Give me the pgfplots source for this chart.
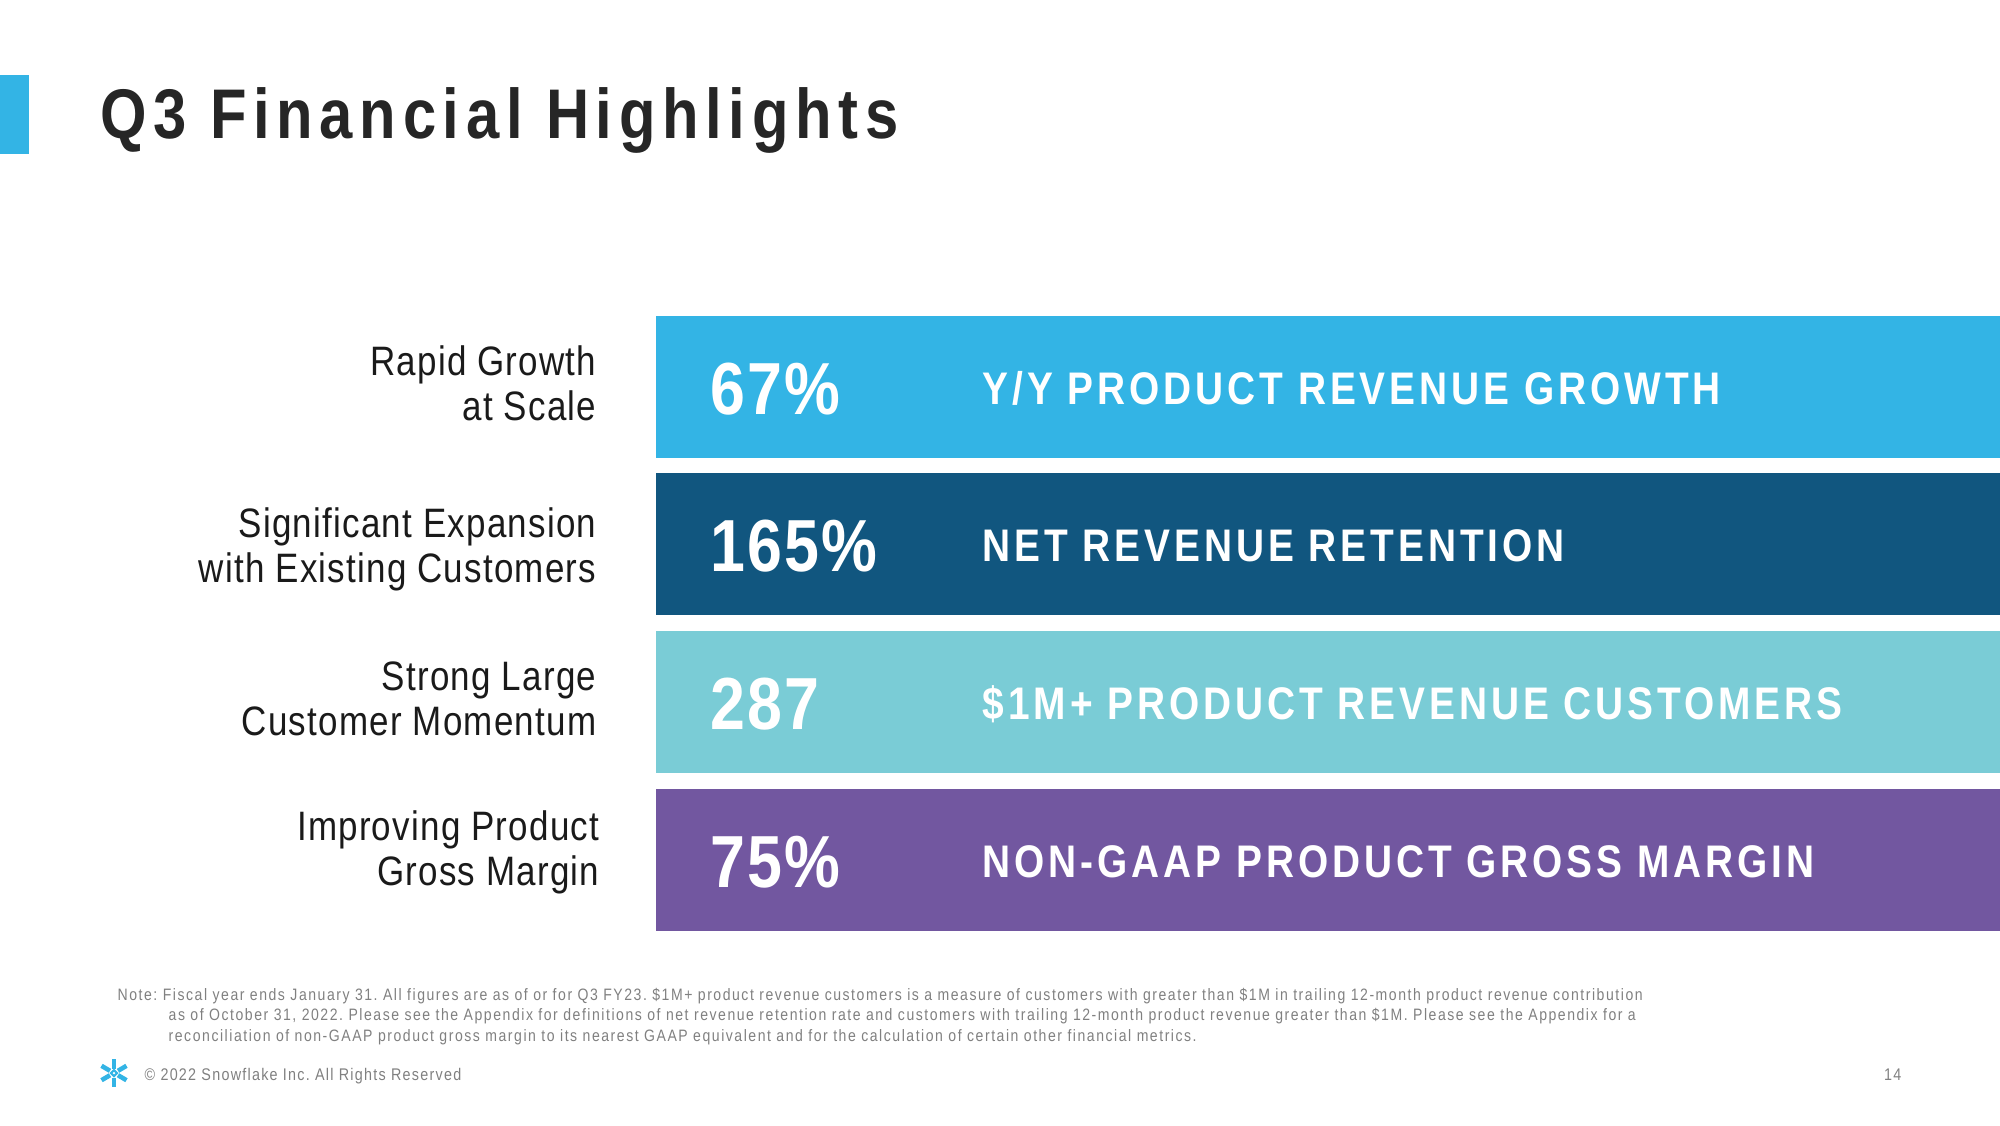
\documentclass[border=0pt]{standalone}
\usepackage{pgfplots}
\pgfplotsset{compat=1.18}
\usepackage{fontspec}
\setmainfont{Liberation Sans}
\frenchspacing
\newfontfamily\titlef{Liberation Sans}[FakeStretch=0.85,LetterSpace=9.5]
\newfontfamily\numf{Liberation Sans}[FakeStretch=0.85,LetterSpace=3]
\newfontfamily\labf{Liberation Sans}[FakeStretch=0.85,LetterSpace=8.6]
\newfontfamily\leftf{Liberation Sans}[FakeStretch=0.85,LetterSpace=3]
\newfontfamily\notef{Liberation Sans}[FakeStretch=0.85,LetterSpace=9.3]
\newfontfamily\footf{Liberation Sans}[FakeStretch=0.85,LetterSpace=7.5]
\definecolor{cA}{RGB}{51,180,229}
\definecolor{cB}{RGB}{17,86,127}
\definecolor{cC}{RGB}{122,204,214}
\definecolor{cD}{RGB}{114,87,160}
\definecolor{titlec}{RGB}{38,38,38}
\definecolor{labc}{RGB}{26,26,26}
\definecolor{notec}{RGB}{128,128,128}
\begin{document}
\begin{tikzpicture}
\useasboundingbox (0,0) rectangle (20cm,11.25cm);
\begin{axis}[at={(0,0)}, anchor=south west, scale only axis,
  width=20cm, height=11.25cm, xmin=0, xmax=2000, ymin=0, ymax=1125,
  y dir=reverse, hide axis, xbar stacked, bar width=142, clip=false]
\addplot[draw=none, fill=none] coordinates {(656,387) (656,544) (656,702) (656,860)};
\addplot[draw=none, fill=cA] coordinates {(1344,387) (0,544) (0,702) (0,860)};
\addplot[draw=none, fill=cB] coordinates {(0,387) (1344,544) (0,702) (0,860)};
\addplot[draw=none, fill=cC] coordinates {(0,387) (0,544) (1344,702) (0,860)};
\addplot[draw=none, fill=cD] coordinates {(0,387) (0,544) (0,702) (1344,860)};
\end{axis}
\begin{axis}[at={(0,0)}, anchor=south west, scale only axis,
  width=20cm, height=11.25cm, xmin=0, xmax=2000, ymin=0, ymax=1125,
  y dir=reverse, hide axis, clip=false]
\addplot[draw=none] coordinates {(0,0)};
\fill[cA] (axis cs:0,75) rectangle (axis cs:29,154);
\node[anchor=base west, inner sep=0, text=titlec] at (axis cs:100,138)
  {\titlef\bfseries\fontsize{20}{24}\selectfont Q3 Financial Highlights};
\node[anchor=base west, inner sep=0, text=white] at (axis cs:710,414) {\numf\bfseries\fontsize{21}{25}\selectfont 67\%};
\node[anchor=base west, inner sep=0, text=white] at (axis cs:710,571) {\numf\bfseries\fontsize{21}{25}\selectfont 165\%};
\node[anchor=base west, inner sep=0, text=white] at (axis cs:710,729) {\numf\bfseries\fontsize{21}{25}\selectfont 287};
\node[anchor=base west, inner sep=0, text=white] at (axis cs:710,887) {\numf\bfseries\fontsize{21}{25}\selectfont 75\%};
\node[anchor=base west, inner sep=0, text=white] at (axis cs:982,404) {\labf\bfseries\fontsize{13}{15}\selectfont Y/Y PRODUCT REVENUE GROWTH};
\node[anchor=base west, inner sep=0, text=white] at (axis cs:982,561) {\labf\bfseries\fontsize{13}{15}\selectfont NET REVENUE RETENTION};
\node[anchor=base west, inner sep=0, text=white] at (axis cs:982,719) {\labf\bfseries\fontsize{13}{15}\selectfont \$1M+ PRODUCT REVENUE CUSTOMERS};
\node[anchor=base west, inner sep=0, text=white] at (axis cs:982,877) {\labf\bfseries\fontsize{13}{15}\selectfont NON-GAAP PRODUCT GROSS MARGIN};
\node[anchor=east, inner sep=0, align=right, text=labc, font={\leftf\fontsize{11.7}{12.8}\selectfont}] at (axis cs:597,383) {Rapid Growth\\at Scale};
\node[anchor=east, inner sep=0, align=right, text=labc, font={\leftf\fontsize{11.7}{12.8}\selectfont}] at (axis cs:597,549) {Significant Expansion\\with Existing Customers};
\node[anchor=east, inner sep=0, align=right, text=labc, font={\leftf\fontsize{11.7}{12.8}\selectfont}] at (axis cs:597,699) {Strong Large\\Customer Momentum};
\node[anchor=east, inner sep=0, align=right, text=labc, font={\leftf\fontsize{11.7}{12.8}\selectfont}] at (axis cs:600,852) {Improving Product\\Gross Margin};
\node[anchor=base west, inner sep=0, text=notec] at (axis cs:117,1000) {\notef\fontsize{4.7}{5.8}\selectfont Note: Fiscal year ends January 31. All figures are as of or for Q3 FY23. \$1M+ product revenue customers is a measure of customers with greater than \$1M in trailing 12-month product revenue contribution};
\node[anchor=base west, inner sep=0, text=notec] at (axis cs:168,1020) {\notef\fontsize{4.7}{5.8}\selectfont as of October 31, 2022. Please see the Appendix for definitions of net revenue retention rate and customers with trailing 12-month product revenue greater than \$1M. Please see the Appendix for a};
\node[anchor=base west, inner sep=0, text=notec] at (axis cs:168,1041) {\notef\fontsize{4.7}{5.8}\selectfont reconciliation of non-GAAP product gross margin to its nearest GAAP equivalent and for the calculation of certain other financial metrics.};
\node[anchor=base west, inner sep=0, text=notec] at (axis cs:144,1080) {\footf\fontsize{4.8}{6}\selectfont \textcopyright\ 2022 Snowflake Inc. All Rights Reserved};
\node[anchor=base east, inner sep=0, text=notec] at (axis cs:1902,1080) {\footf\fontsize{4.8}{6}\selectfont 14};
\draw[cA, line width=1.3pt] (axis cs:114,1068.5) -- (axis cs:114,1059);
\draw[cA, line width=1.3pt] (axis cs:114,1077.5) -- (axis cs:114,1087);
\draw[cA, line width=1.3pt] (axis cs:110,1070.8) -- (axis cs:101.5,1065.8);
\draw[cA, line width=1.3pt] (axis cs:118,1070.8) -- (axis cs:126.5,1065.8);
\draw[cA, line width=1.3pt] (axis cs:110,1075.2) -- (axis cs:101.5,1080.2);
\draw[cA, line width=1.3pt] (axis cs:118,1075.2) -- (axis cs:126.5,1080.2);
\draw[cA, line width=0.6pt] (axis cs:114,1070) -- (axis cs:117,1073) -- (axis cs:114,1076) -- (axis cs:111,1073) -- cycle;
\end{axis}
\end{tikzpicture}
\end{document}
